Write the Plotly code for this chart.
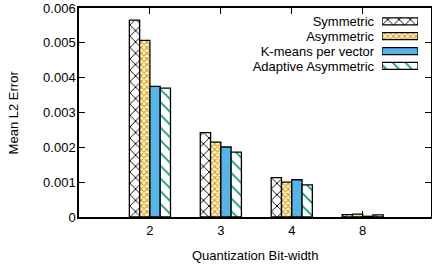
import plotly.graph_objects as go

categories = ["2", "3", "4", "8"]
series_names = ["Symmetric", "Asymmetric", "K-means per vector", "Adaptive Asymmetric"]
symmetric = [0.00565, 0.00242, 0.00113, 0.00007]
asymmetric = [0.00507, 0.00215, 0.00100, 0.00008]
kmeans = [0.00375, 0.00201, 0.00107, 0.00002]
adaptive = [0.00370, 0.00186, 0.00092, 0.00006]
y_ticks = [0, 0.001, 0.002, 0.003, 0.004, 0.005, 0.006]
y_tick_labels = ["0", "0.001", "0.002", "0.003", "0.004", "0.005", "0.006"]

pat_shapes = ["x", "x", "", "\\"]
pat_fg = ["black", "#E69F00", "#56B4E9", "#009E73"]
pat_bg = ["white", "white", "#56B4E9", "white"]
pat_size = [8, 4, 8, 9]
pat_solid = [0.22, 0.5, 0.5, 0.18]


def make_marker(i):
    m = dict(color=pat_bg[i], line=dict(color="black", width=1.3))
    if pat_shapes[i]:
        m["pattern"] = dict(shape=pat_shapes[i], fgcolor=pat_fg[i], bgcolor=pat_bg[i],
                            size=pat_size[i], solidity=pat_solid[i], fgopacity=1)
    return m


FONT = "Liberation Sans, Arial, sans-serif"
fig = go.Figure()
for i, (name, vals) in enumerate(zip(series_names, [symmetric, asymmetric, kmeans, adaptive])):
    fig.add_trace(go.Bar(x=categories, y=vals, name=name, marker=make_marker(i), showlegend=False))

# custom legend (text left, sample box right), drawn as a small horizontal bar chart
for i, name in enumerate(series_names):
    fig.add_trace(go.Bar(
        x=[1], y=[name], orientation="h", width=0.47, offsetgroup="legend",
        xaxis="x2", yaxis="y2", showlegend=False, hoverinfo="skip",
        marker=make_marker(i),
    ))

axis_common = dict(showline=True, linecolor="black", linewidth=1.5, mirror="allticks",
                   ticks="inside", ticklen=6, tickcolor="black", tickwidth=1,
                   showgrid=False, zeroline=False, automargin=False,
                   tickfont=dict(family=FONT, size=13, color="black"))

fig.update_layout(
    width=432, height=267,
    margin=dict(l=79, r=1, t=8, b=50, autoexpand=False),
    paper_bgcolor="white", plot_bgcolor="white",
    barmode="group", bargap=0.42, bargroupgap=0,
    font=dict(family=FONT, size=13, color="black"),
    xaxis=dict(range=[-1, 3.963], ticklabelstandoff=1, **axis_common),
    yaxis=dict(range=[0, 0.006], tickvals=y_ticks, ticktext=y_tick_labels,
               ticklabelstandoff=-1, **axis_common),
    xaxis2=dict(domain=[0.861, 0.963], range=[0, 1], anchor="y2", visible=False),
    yaxis2=dict(domain=[0.687, 0.972], range=[3.5, -0.5], anchor="x2", showline=False,
                tickmode="array", tickvals=series_names, automargin=False,
                ticks="", showgrid=False, zeroline=False, ticklabelstandoff=7,
                tickfont=dict(family=FONT, size=13, color="black")),
    annotations=[
        dict(text="Quantization Bit-width", xref="paper", yref="paper", x=0.5, y=-0.186,
             xanchor="center", yanchor="middle", showarrow=False, font=dict(size=13)),
        dict(text="Mean L2 Error", xref="paper", yref="paper", x=-0.185, y=0.5,
             xanchor="center", yanchor="middle", textangle=-90, showarrow=False, font=dict(size=13)),
    ],
)

fig.write_html("out.html", config={"displayModeBar": False},
               post_script="document.body.style.margin='0px';")
